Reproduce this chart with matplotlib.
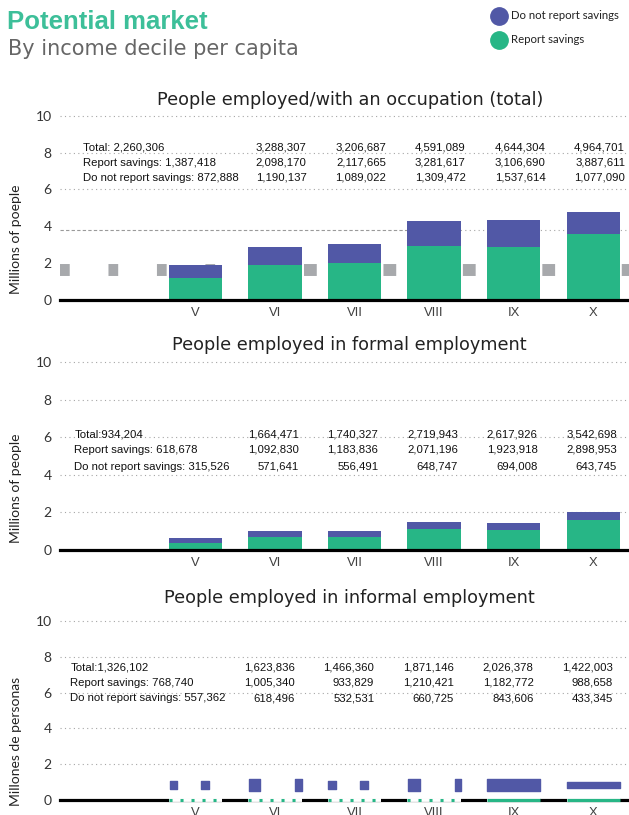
import numpy as np
import matplotlib.pyplot as plt
from matplotlib.lines import Line2D
from matplotlib import font_manager

# Income deciles shown
deciles = ["V", "VI", "VII", "VIII", "IX", "X"]

# Printed figures (people)
occ_total = [2260306, 3288307, 3206687, 4591089, 4644304, 4964701]
occ_report = [1387418, 2098170, 2117665, 3281617, 3106690, 3887611]
occ_noreport = [872888, 1190137, 1089022, 1309472, 1537614, 1077090]

formal_total = [934204, 1664471, 1740327, 2719943, 2617926, 3542698]
formal_report = [618678, 1092830, 1183836, 2071196, 1923918, 2898953]
formal_noreport = [315526, 571641, 556491, 648747, 694008, 643745]

informal_total = [1326102, 1623836, 1466360, 1871146, 2026378, 1422003]
informal_report = [768740, 1005340, 933829, 1210421, 1182772, 988658]
informal_noreport = [557362, 618496, 532531, 660725, 843606, 433345]

# Bar heights as drawn in the picture (millions)
occ_bar_report = [1.19, 1.87, 2.03, 2.92, 2.87, 3.60]
occ_bar_total = [1.87, 2.87, 3.03, 4.29, 4.34, 4.76]
formal_bar_report = [0.38, 0.70, 0.70, 1.14, 1.08, 1.62]
formal_bar_total = [0.65, 1.03, 1.03, 1.51, 1.46, 2.05]

# Informal panel: only broken pieces of the "do not report" bars are visible
informal_piece_lo = [0.62, 0.53, 0.62, 0.53, 0.53, 0.69]
informal_piece_hi = [1.06, 1.15, 1.06, 1.15, 1.15, 1.01]
informal_pieces = [[(0.03, 0.13), (0.61, 0.14)],
                   [(0.01, 0.22), (0.88, 0.12)],
                   [(0.01, 0.15), (0.60, 0.15)],
                   [(0.01, 0.22), (0.90, 0.11)],
                   [(0.0, 1.0)],
                   [(0.0, 1.0)]]
informal_base_dotted = [True, True, True, True, False, False]

BLUE = "#5158a6"
GREEN = "#27b686"
GRAY_GRID = "#a6a6a6"
SOFT = ["Lato", "DejaVu Sans"]

# narrow font for the figures, if there is one
installed = {f.name for f in font_manager.fontManager.ttflist}
if "Liberation Sans Narrow" in installed:
    NARROW, NSIZE = "Liberation Sans Narrow", 10
else:
    NARROW, NSIZE = "Liberation Sans", 8.2

x = np.arange(len(deciles))
bw = 0.67

fig = plt.figure(figsize=(6.29, 8.15), dpi=100)

# Header
fig.text(0.011, 0.973, "Potential market", fontsize=18.5, fontweight="bold",
         color="#3dbf99", family="Liberation Sans", va="center")
fig.text(0.012, 0.940, "By income decile per capita", fontsize=15,
         color="#666666", family="DejaVu Sans", va="center")
fig.add_artist(Line2D([0.794], [0.980], marker="o", markersize=12.5,
                      color=BLUE, transform=fig.transFigure))
fig.add_artist(Line2D([0.794], [0.951], marker="o", markersize=12.5,
                      color=GREEN, transform=fig.transFigure))
fig.text(0.812, 0.981, "Do not report savings", fontsize=8.2, family=SOFT,
         color="#222222", va="center")
fig.text(0.812, 0.951, "Report savings", fontsize=8.2, family=SOFT,
         color="#222222", va="center")


def base_axes(rect, title, title_y, ylabel):
    ax = fig.add_axes(rect)
    ax.set_xlim(-1.70, 5.45)
    ax.set_ylim(0, 10)
    for s in ax.spines.values():
        s.set_visible(False)
    ax.set_yticks([0, 2, 4, 6, 8, 10])
    ax.set_yticklabels(["0", "2", "4", "6", "8", "10"], family=SOFT,
                       fontsize=10, color="#333333")
    ax.set_xticks(x)
    ax.set_xticklabels(deciles, family=NARROW, fontsize=NSIZE + 1.2,
                       color="#404040")
    ax.tick_params(length=0)
    ax.tick_params(axis="y", pad=6)
    ax.tick_params(axis="x", pad=5)
    ax.set_ylabel(ylabel, family=SOFT, fontsize=10, color="#222222")
    ax.yaxis.set_label_coords(-0.066, 0.33)
    fig.text(0.556, title_y, title, fontsize=12.7, family="DejaVu Sans",
             color="#222222", ha="center", va="center")
    return ax


def grid(ax, levels):
    ax.hlines(levels, -1.70, 5.45, colors=GRAY_GRID, linewidth=0.8,
              linestyles=(0, (1, 3)), clip_on=False, zorder=0)


def labels(ax, total, report, noreport, sep, xl, xr, ys):
    names = ["Total:" + sep, "Report savings: ", "Do not report savings: "]
    rows = [total, report, noreport]
    for name, row, yy in zip(names, rows, ys):
        ax.text(xl, yy, name + f"{row[0]:,}", family=NARROW, fontsize=NSIZE,
                va="center", ha="left", color="#111111")
        for i in range(1, len(row)):
            ax.text(x[i] + xr, yy, f"{row[i]:,}", family=NARROW,
                    fontsize=NSIZE, va="center", ha="right", color="#111111")


# Panel 1: all employed
ax1 = base_axes([0.0954, 0.632, 0.9046, 0.226],
                "People employed/with an occupation (total)", 0.877,
                "Millions of poeple")
grid(ax1, [6, 8, 10])
ax1.hlines(3.8, -1.70, 2.66, colors="#9a9a9a", linewidth=0.8,
           linestyles=(0, (3, 2)), zorder=0)
ax1.hlines(3.8, 2.66, 5.45, colors=GRAY_GRID, linewidth=0.8,
           linestyles=(0, (1, 3)), zorder=0)
lw_sq = 8.6
ax1.hlines(1.62, -1.70, 0.75, colors="#a7a9ac", linewidth=lw_sq,
           linestyles=(0, (7.0 / lw_sq, 27.9 / lw_sq)), zorder=1)
ax1.hlines(1.62, 1.36, 5.45, colors="#a7a9ac", linewidth=lw_sq,
           linestyles=(0, (9.2 / lw_sq, 48.0 / lw_sq)), zorder=1)
occ_blue = np.array(occ_bar_total) - np.array(occ_bar_report)
ax1.bar(x, occ_bar_report, bw, color=GREEN, zorder=2)
ax1.bar(x, occ_blue, bw, bottom=occ_bar_report, color=BLUE, zorder=2)
ax1.axhline(0, color="black", linewidth=2.3, zorder=3, clip_on=False)
labels(ax1, occ_total, occ_report, occ_noreport, " ", -1.41, 0.40,
       [8.25, 7.45, 6.62])

# Panel 2: formal
ax2 = base_axes([0.0954, 0.325, 0.9046, 0.231],
                "People employed in formal employment", 0.577,
                "Millions of people")
grid(ax2, [2, 4, 6, 8, 10])
formal_blue = np.array(formal_bar_total) - np.array(formal_bar_report)
ax2.bar(x, formal_bar_report, bw, color=GREEN, zorder=2)
ax2.bar(x, formal_blue, bw, bottom=formal_bar_report, color=BLUE, zorder=2)
ax2.axhline(0, color="black", linewidth=2.3, zorder=3, clip_on=False)
labels(ax2, formal_total, formal_report, formal_noreport, "", -1.52, 0.30,
       [6.15, 5.32, 4.42])

# Panel 3: informal
ax3 = base_axes([0.0954, 0.0184, 0.9046, 0.2196],
                "People employed in informal employment", 0.266,
                "Millones de personas")
grid(ax3, [2, 4, 6, 8, 10])
ax3.axhline(0, color="black", linewidth=2.3, zorder=3, clip_on=False)
for i in range(len(deciles)):
    left = x[i] - bw / 2
    spans = [(left + s * bw, w * bw) for s, w in informal_pieces[i]]
    ax3.broken_barh(spans, (informal_piece_lo[i],
                            informal_piece_hi[i] - informal_piece_lo[i]),
                    color=BLUE, zorder=2)
    ax3.hlines(0, left, left + bw, colors="white", linewidth=2.8, zorder=4,
               clip_on=False)
    if informal_base_dotted[i]:
        ax3.hlines(0, left, left + bw, colors=GREEN, linewidth=2.2, zorder=5,
                   linestyles=(0, (1.0, 2.6)), clip_on=False)
    else:
        ax3.hlines(0, left, left + bw, colors=GREEN, linewidth=2.3, zorder=5,
                   clip_on=False)
labels(ax3, informal_total, informal_report, informal_noreport, "", -1.57,
       0.25, [7.40, 6.55, 5.68])

fig.savefig("out.png", dpi=100)
